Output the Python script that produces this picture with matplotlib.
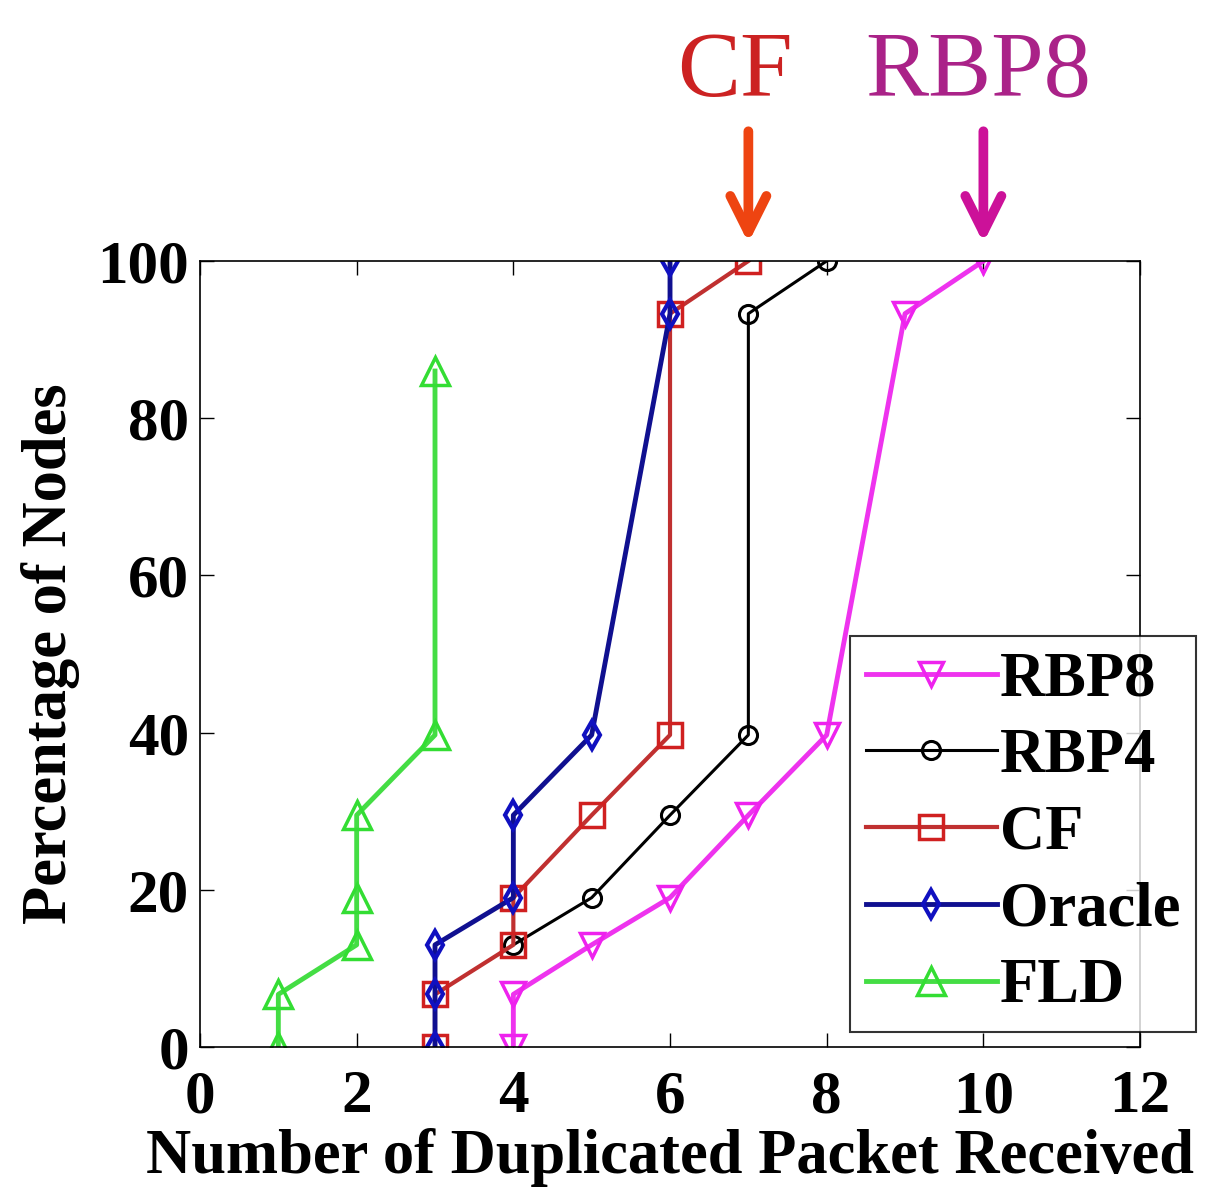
import matplotlib
matplotlib.use('Agg')
import matplotlib.pyplot as plt

plt.rcParams['font.family'] = ['Liberation Serif', 'DejaVu Serif']
plt.rcParams['font.weight'] = 'bold'

# duplicated packets received vs. cumulative percentage of nodes
rbp8_x = [4, 4, 5, 6, 7, 8, 9, 10]
rbp8_y = [0, 6.7, 13, 19, 29.5, 39.7, 93.3, 100]
rbp4_x = [4, 5, 6, 7, 7, 8]
rbp4_y = [13, 19, 29.5, 39.7, 93.3, 100]
cf_x = [3, 3, 4, 4, 5, 6, 6, 7]
cf_y = [0, 6.7, 13, 19, 29.5, 39.7, 93.3, 100]
oracle_x = [3, 3, 3, 4, 4, 5, 6, 6]
oracle_y = [0, 6.7, 13, 19, 29.5, 39.7, 93.3, 100]
fld_x = [1, 1, 2, 2, 2, 3, 3]
fld_y = [0, 6.7, 13, 19, 29.5, 39.7, 86]

xticks = [0, 2, 4, 6, 8, 10, 12]
yticks = [0, 20, 40, 60, 80, 100]

fig = plt.figure(figsize=(12.18, 11.89), dpi=100)
ax = fig.add_axes([0.1642, 0.1194, 0.7718, 0.6611])

ax.plot(rbp8_x, rbp8_y, color='#ee33ee', lw=3.5, marker='v', ms=17,
        mfc='none', mec='#ee22ee', mew=2.5, label='RBP8')
ax.plot(rbp4_x, rbp4_y, color='black', lw=2.2, marker='o', ms=13,
        mfc='none', mec='black', mew=2.2, label='RBP4')
ax.plot(cf_x, cf_y, color='#c03030', lw=3, marker='s', ms=17,
        mfc='none', mec='#d02020', mew=2.5, label='CF')
ax.plot(oracle_x, oracle_y, color='#101090', lw=3.5, marker='d', ms=14,
        mfc='none', mec='#1010c0', mew=3, label='Oracle')
ax.plot(fld_x, fld_y, color='#44dd44', lw=3.5, marker='^', ms=20,
        mfc='none', mec='#33dd33', mew=2.5, label='FLD')

ax.set_xlim(0, 12)
ax.set_ylim(0, 100)
ax.set_xticks(xticks)
ax.set_yticks(yticks)
ax.tick_params(direction='in', length=10, width=1, top=True, right=True,
               labelsize=44)
ax.tick_params(axis='x', pad=16)
ax.tick_params(axis='y', pad=8)
for s in ax.spines.values():
    s.set_linewidth(1.2)

ax.set_xlabel('Number of Duplicated Packet Received', fontsize=45,
              fontweight='bold', labelpad=2)
ax.set_ylabel('Percentage of Nodes', fontsize=45, fontweight='bold',
              labelpad=12)

leg = ax.legend(loc='lower right', bbox_to_anchor=(0.982, 0.132),
                bbox_transform=fig.transFigure, fontsize=45, frameon=True,
                fancybox=False, edgecolor='black', handlelength=2.1,
                handletextpad=0.05, borderpad=0.25, labelspacing=0.3,
                borderaxespad=0)
leg.get_frame().set_linewidth(1.5)

# arrows marking where CF and RBP8 reach 100%
ax.annotate('', xy=(7, 102.3), xytext=(7, 116.5), annotation_clip=False,
            arrowprops=dict(arrowstyle='->', color='#ee4411', lw=7,
                            mutation_scale=65, shrinkA=0, shrinkB=0))
ax.annotate('', xy=(10, 102.3), xytext=(10, 116.5), annotation_clip=False,
            arrowprops=dict(arrowstyle='->', color='#cc1199', lw=7,
                            mutation_scale=65, shrinkA=0, shrinkB=0))
ax.text(6.83, 121.0, 'CF', color='#cc2222', fontsize=68, fontweight='normal',
        ha='center', va='baseline', clip_on=False)
ax.text(9.93, 121.0, 'RBP8', color='#aa2288', fontsize=68, fontweight='normal',
        ha='center', va='baseline', clip_on=False)

fig.savefig('out.png', dpi=100)
